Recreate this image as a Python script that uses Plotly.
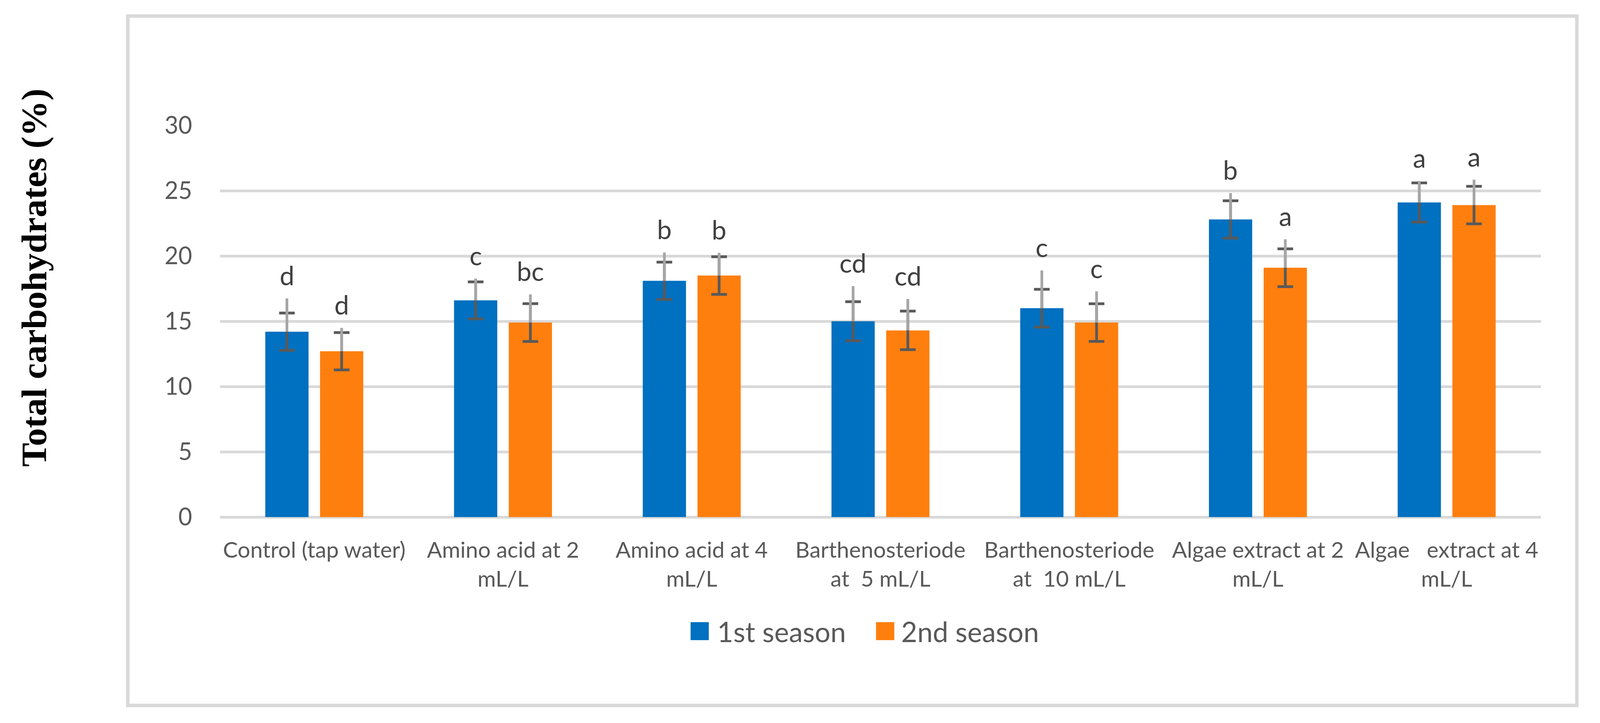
import plotly.graph_objects as go

# ---------------- data ----------------
categories = [
    "Control (tap water)",
    "Amino acid at 2<br>mL/L",
    "Amino acid at 4<br>mL/L",
    "Barthenosteriode<br>at\u00a0 5 mL/L",
    "Barthenosteriode<br>at\u00a0 10 mL/L",
    "Algae extract at 2<br>mL/L",
    "Algae\u00a0\u00a0 extract at 4<br>mL/L",
]
season1 = [14.2, 16.6, 18.1, 15.0, 16.0, 22.8, 24.1]
season2 = [12.7, 14.9, 18.5, 14.3, 14.9, 19.1, 23.9]
err1 = [1.43, 1.42, 1.43, 1.50, 1.45, 1.43, 1.50]
err2 = [1.43, 1.45, 1.44, 1.48, 1.44, 1.45, 1.44]
# second (light grey, plus-only) error series
plus1 = [2.55, 1.67, 2.17, 2.69, 2.89, 2.02, 1.65]
plus2 = [1.79, 2.16, 1.74, 2.41, 2.39, 2.18, 1.95]
letters1 = ["d", "c", "b", "cd", "c", "b", "a"]
letters2 = ["d", "bc", "b", "cd", "c", "a", "a"]
series_names = ["1st season", "2nd season"]
y_ticks = [0, 5, 10, 15, 20, 25, 30]

# ---------------- layout geometry ----------------
# design coordinates are those of the 4219-px wide reference; the page the
# figure is shown in is 4096 px wide, so x positions are scaled to fit.
REF_W = 4219
W, H = 4096, 1850
SX = W / REF_W
ML = round(580 * SX)
MR = W - round(4063 * SX)
MT, MB = 321, 527
PW, PH = W - ML - MR, H - MT - MB
BLUE, ORANGE = "#0070C0", "#FF7F0E"
GRID = "#D9D9D9"
TXT = "#595959"
FONT = "Lato"
BARGAP = 0.42
BARGROUPGAP = 0.21


def px_x(p):
    return (p * SX - ML) / PW


def px_y(p):
    return (H - MB - p) / PH


fig = go.Figure()
for name, vals, err, col in [(series_names[0], season1, err1, BLUE),
                              (series_names[1], season2, err2, ORANGE)]:
    fig.add_trace(go.Bar(
        x=categories, y=vals, name=name, marker_color=col, marker_line_width=0,
        error_y=dict(type="data", array=err, visible=True, color="#595959",
                     thickness=7, width=20),
        xaxis="x", yaxis="y", showlegend=False, hoverinfo="skip"))

for vals, plus in [(season1, plus1), (season2, plus2)]:
    fig.add_trace(go.Bar(
        x=categories, y=vals, marker_color="rgba(0,0,0,0)", marker_line_width=0,
        error_y=dict(type="data", symmetric=False, array=plus,
                     arrayminus=[0] * len(plus), visible=True,
                     color="#A6A6A6", thickness=7, width=0),
        xaxis="x2", yaxis="y", showlegend=False, hoverinfo="skip"))

annotations = []
slot = (1 - BARGAP) / 2
for k, (vals, plus, lets) in enumerate([(season1, plus1, letters1),
                                         (season2, plus2, letters2)]):
    for i, (v, p, t) in enumerate(zip(vals, plus, lets)):
        annotations.append(dict(
            x=i + (k - 0.5) * slot, y=v + p, xref="x", yref="y", text=t,
            showarrow=False, yanchor="bottom", yshift=18,
            font=dict(family=FONT, size=67, color="#404040")))

# y axis title
annotations.append(dict(
    x=px_x(90), y=px_y(710), xref="paper", yref="paper",
    text="Total carbohydrates (%)", textangle=-90, showarrow=False,
    xanchor="center", yanchor="middle",
    font=dict(family="Liberation Serif", size=92, color="black", weight="bold")))

# chart frame + legend (drawn manually so the key squares match the reference)
shapes = [
    dict(type="rect", xref="paper", yref="paper",
         x0=px_x(337), x1=px_x(4158), y0=px_y(1805), y1=px_y(41),
         line=dict(color=GRID, width=9), fillcolor="rgba(0,0,0,0)", layer="below"),
]
for name, col, sx, tx in [(series_names[0], BLUE, 1821, 1889),
                          (series_names[1], ORANGE, 2310, 2374)]:
    shapes.append(dict(type="rect", xref="paper", yref="paper",
                       x0=px_x(sx), x1=px_x(sx + 48), y0=px_y(1638), y1=px_y(1592),
                       line=dict(width=0), fillcolor=col))
    annotations.append(dict(x=px_x(tx), y=px_y(1615), xref="paper", yref="paper",
                            text=name, showarrow=False, xanchor="left", yanchor="middle",
                            font=dict(family=FONT, size=71, color=TXT)))

fig.update_layout(
    width=W, height=H,
    margin=dict(l=ML, r=MR, t=MT, b=MB, autoexpand=False),
    paper_bgcolor="white", plot_bgcolor="white",
    barmode="group", bargap=BARGAP, bargroupgap=BARGROUPGAP,
    showlegend=False,
    font=dict(family=FONT, color=TXT),
    xaxis=dict(type="category", showgrid=False, zeroline=False, showline=False,
               ticks="", tickfont=dict(family=FONT, size=57, color=TXT),
               ticklabelstandoff=46, tickangle=0),
    xaxis2=dict(type="category", overlaying="x", matches="x", visible=False,
                showgrid=False),
    yaxis=dict(range=[0, 30], tickvals=y_ticks, showgrid=True, gridcolor=GRID,
               gridwidth=7, zeroline=True, zerolinecolor=GRID, zerolinewidth=7,
               showline=False, ticks="", ticklabelstandoff=70,
               tickfont=dict(family=FONT, size=61, color=TXT)),
    annotations=annotations, shapes=shapes,
)

fig.write_html("out.html",
               config={"displayModeBar": False},
               post_script="document.body.style.margin='0';"
                           "document.body.style.overflow='hidden';")
